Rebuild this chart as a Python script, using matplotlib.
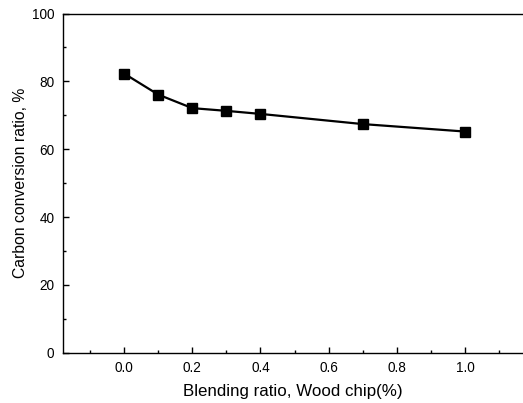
import matplotlib.pyplot as plt
from matplotlib.ticker import MultipleLocator

# data
blend = [0.0, 0.1, 0.2, 0.3, 0.4, 0.7, 1.0]
conversion = [82.3, 76.1, 72.1, 71.3, 70.4, 67.4, 65.2]

plt.rcParams['font.family'] = ['Liberation Sans', 'DejaVu Sans']

fig = plt.figure(figsize=(5.23, 4.03), dpi=100)
ax = fig.add_axes([0.1199, 0.1248, 0.8801, 0.8417])

ax.plot(blend, conversion, color='black', linewidth=1.6,
        marker='s', markersize=7.8, markerfacecolor='black', markeredgecolor='black')

ax.set_xlim(-0.18, 1.17)
ax.set_ylim(0, 100)
ax.xaxis.set_major_locator(MultipleLocator(0.2))
ax.xaxis.set_minor_locator(MultipleLocator(0.1))
ax.yaxis.set_major_locator(MultipleLocator(20))
ax.yaxis.set_minor_locator(MultipleLocator(10))
ax.xaxis.set_major_formatter(plt.FuncFormatter(lambda v, p: f"{v:.1f}"))

ax.tick_params(which='both', direction='in', top=False, right=False, labelsize=9.8, width=1.0)
ax.tick_params(which='major', length=4.5)
ax.tick_params(axis='x', which='major', pad=6)
ax.tick_params(axis='y', which='major', pad=6)
ax.tick_params(which='minor', length=2.5)

for s in ['left', 'bottom', 'top']:
    ax.spines[s].set_linewidth(1.0)
ax.spines['right'].set_visible(False)

ax.set_xlabel('Blending ratio, Wood chip(%)', fontsize=12.2, labelpad=6.5)
ax.set_ylabel('Carbon conversion ratio, %', fontsize=11.3, labelpad=3)

fig.savefig('out.png', dpi=100)
